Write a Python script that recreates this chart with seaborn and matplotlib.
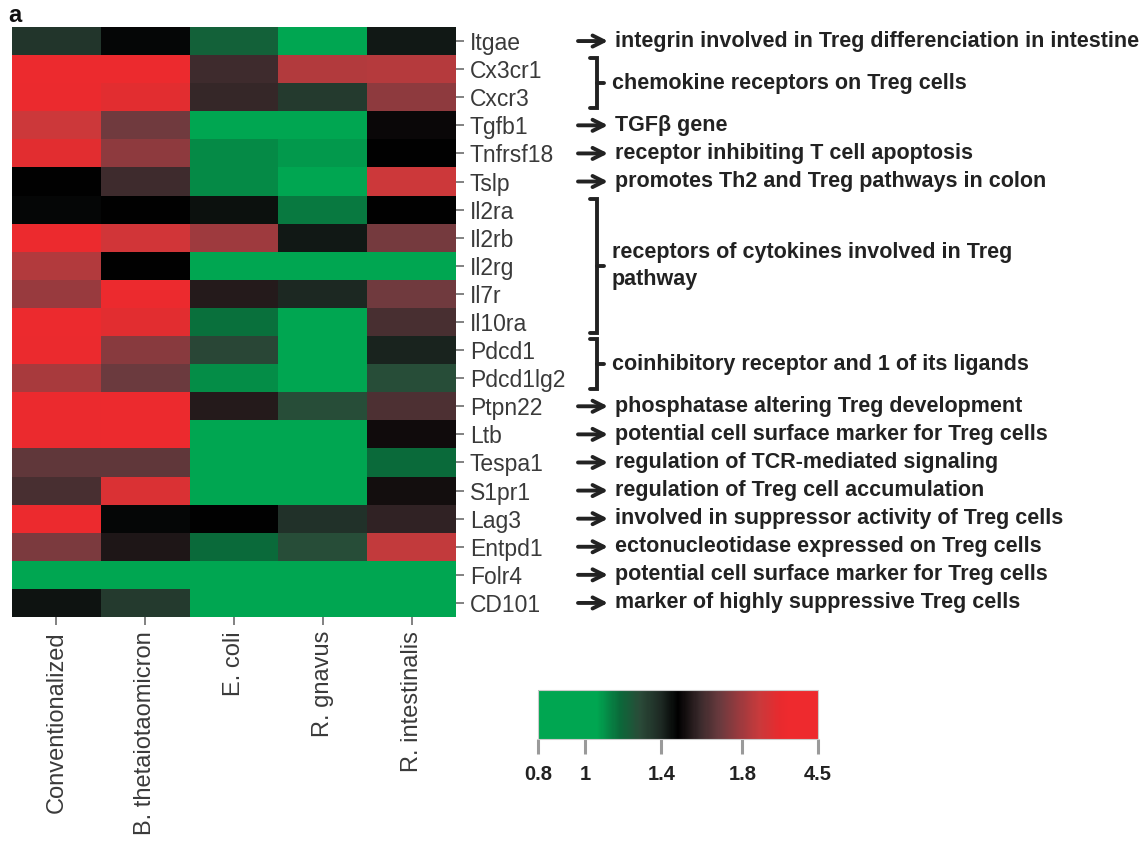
import numpy as np
import pandas as pd
import matplotlib
matplotlib.use("Agg")
import matplotlib.pyplot as plt
import matplotlib.colors as mcolors
import matplotlib.transforms as mtransforms
import seaborn as sns

# Data (fold change)
genes = ["Itgae", "Cx3cr1", "Cxcr3", "Tgfb1", "Tnfrsf18", "Tslp", "Il2ra", "Il2rb",
         "Il2rg", "Il7r", "Il10ra", "Pdcd1", "Pdcd1lg2", "Ptpn22", "Ltb", "Tespa1",
         "S1pr1", "Lag3", "Entpd1", "Folr4", "CD101"]
groups = ["Conventionalized", "B. thetaiotaomicron", "E. coli", "R. gnavus", "R. intestinalis"]

conventionalized = [1.36, 3.4, 3.3, 2.5, 3.0, 1.48, 1.47, 3.35, 2.05, 1.78, 3.4,
                    3.3, 1.9, 3.3, 3.3, 1.67, 1.62, 3.4, 1.72, 0.85, 1.44]
b_theta = [1.47, 3.4, 3.0, 1.70, 1.76, 1.6, 1.48, 2.6, 1.48, 3.35, 3.0,
           1.75, 1.69, 3.4, 3.4, 1.67, 2.8, 1.47, 1.54, 0.85, 1.34]
e_coli = [1.21, 1.6, 1.58, 0.85, 1.12, 1.12, 1.45, 1.79, 0.8, 1.55, 1.17,
          1.3, 1.11, 1.55, 0.85, 0.85, 0.85, 1.48, 1.18, 0.85, 0.85]
r_gnavus = [0.9, 2.05, 1.34, 0.98, 1.09, 0.92, 1.15, 1.43, 0.8, 1.4, 0.85,
            0.85, 0.85, 1.28, 0.85, 0.85, 0.85, 1.37, 1.28, 0.85, 0.85]
r_intestinalis = [1.43, 2.1, 1.76, 1.5, 1.48, 2.5, 1.48, 1.71, 0.8, 1.70, 1.62,
                  1.41, 1.28, 1.63, 1.51, 1.18, 1.52, 1.57, 2.3, 0.85, 0.85]

descriptions = {
    "Itgae": "integrin involved in Treg differenciation in intestine",
    "Tgfb1": "TGF\u03b2 gene",
    "Tnfrsf18": "receptor inhibiting T cell apoptosis",
    "Tslp": "promotes Th2 and Treg pathways in colon",
    "Ptpn22": "phosphatase altering Treg development",
    "Ltb": "potential cell surface marker for Treg cells",
    "Tespa1": "regulation of TCR-mediated signaling",
    "S1pr1": "regulation of Treg cell accumulation",
    "Lag3": "involved in suppressor activity of Treg cells",
    "Entpd1": "ectonucleotidase expressed on Treg cells",
    "Folr4": "potential cell surface marker for Treg cells",
    "CD101": "marker of highly suppressive Treg cells",
}
bracket_groups = [
    ("Cx3cr1", "Cxcr3", "chemokine receptors on Treg cells"),
    ("Il2ra", "Il10ra", "receptors of cytokines involved in Treg\npathway"),
    ("Pdcd1", "Pdcd1lg2", "coinhibitory receptor and 1 of its ligands"),
]

cbar_ticks = [0.8, 1, 1.4, 1.8, 4.5]
cbar_labels = ["0.8", "1", "1.4", "1.8", "4.5"]

df = pd.DataFrame({
    groups[0]: conventionalized,
    groups[1]: b_theta,
    groups[2]: e_coli,
    groups[3]: r_gnavus,
    groups[4]: r_intestinalis,
}, index=genes)

sns.set_style("white")
plt.rcParams["font.family"] = ["Liberation Sans", "DejaVu Sans"]

# non linear colour scale like the original legend
tick_pos = [0, 0.168, 0.44, 0.73, 1]


def forward(x):
    return np.interp(x, cbar_ticks, tick_pos)


def inverse(x):
    return np.interp(x, tick_pos, cbar_ticks)


norm = mcolors.FuncNorm((forward, inverse), vmin=0.8, vmax=4.5)


def rgb(r, g, b):
    return (r / 255, g / 255, b / 255)


cmap = mcolors.LinearSegmentedColormap.from_list("gbr", [
    (0, rgb(0, 166, 81)), (0.21, rgb(0, 166, 81)), (0.29, rgb(10, 106, 58)),
    (0.364, rgb(42, 74, 56)), (0.436, rgb(30, 42, 36)), (0.5, rgb(0, 0, 0)),
    (0.579, rgb(58, 42, 44)), (0.65, rgb(106, 58, 62)), (0.72, rgb(154, 58, 62)),
    (0.79, rgb(200, 58, 60)), (0.864, rgb(232, 42, 46)), (0.9, rgb(238, 42, 46)),
    (1, rgb(238, 42, 46))])

fig = plt.figure(figsize=(11.47, 8.49), dpi=100)
ax = fig.add_axes([12 / 1147, 1 - 617 / 849, 444 / 1147, 590 / 849])
cax = fig.add_axes([538 / 1147, 1 - 739 / 849, 280 / 1147, 49 / 849])

sns.heatmap(df, ax=ax, cmap=cmap, norm=norm, cbar_ax=cax,
            cbar_kws={"orientation": "horizontal", "ticks": cbar_ticks})

# axis labels / ticks
ax.yaxis.tick_right()
ax.tick_params(axis="y", labelright=True, labelleft=False, rotation=0,
               right=True, length=6, width=1.3, color="#777777",
               labelsize=16.5, labelcolor="#3a3a3a", pad=4)
ax.tick_params(axis="x", bottom=True, length=6, width=1.3, color="#777777",
               labelsize=17, labelcolor="#3a3a3a", pad=4)
plt.setp(ax.get_xticklabels(), rotation=90, va="top", ha="center")
ax.set_xlabel("")
ax.set_ylabel("")

# colorbar
cb = ax.collections[0].colorbar
cb.set_ticks(cbar_ticks)
cb.set_ticklabels(cbar_labels)
cb.outline.set_edgecolor("#cccccc")
cb.outline.set_linewidth(0.8)
cb.ax.tick_params(length=11, width=2.2, color="#9a9a9a", labelsize=14.5, pad=8)
for t in cb.ax.get_xticklabels():
    t.set_fontweight("bold")
    t.set_color("#222222")

# annotations right of the heatmap
trans = mtransforms.blended_transform_factory(fig.transFigure, ax.transData)
dark = "#222222"
for i, g in enumerate(genes):
    if g in descriptions:
        y = i + 0.5
        ax.annotate("", xy=(608 / 1147, y), xytext=(578 / 1147, y),
                    xycoords=trans, textcoords=trans,
                    arrowprops=dict(arrowstyle="->", lw=2.8, color=dark,
                                    mutation_scale=20, shrinkA=0, shrinkB=0))
        ax.text(615 / 1147, y, descriptions[g], transform=trans, va="center",
                ha="left", fontsize=15.5, fontweight="bold", color=dark)

bx = 597 / 1147
hook = 7 / 1147
for first, last, label in bracket_groups:
    y0 = genes.index(first) + 0.12
    y1 = genes.index(last) + 0.88
    ym = (y0 + y1) / 2
    ax.plot([bx - hook, bx, bx, bx - hook], [y0, y0, y1, y1], transform=trans,
            color=dark, lw=2.8, clip_on=False, solid_joinstyle="miter")
    ax.plot([bx, bx + hook], [ym, ym], transform=trans, color=dark, lw=2.8,
            clip_on=False)
    ax.text(612 / 1147, ym, label, transform=trans, va="center", ha="left",
            fontsize=15.5, fontweight="bold", color=dark, linespacing=1.4)

fig.text(8 / 1147, 1 - 16 / 849, "a", fontsize=17, fontweight="bold",
         color="#111111", va="center")

fig.savefig("out.png", dpi=100)
